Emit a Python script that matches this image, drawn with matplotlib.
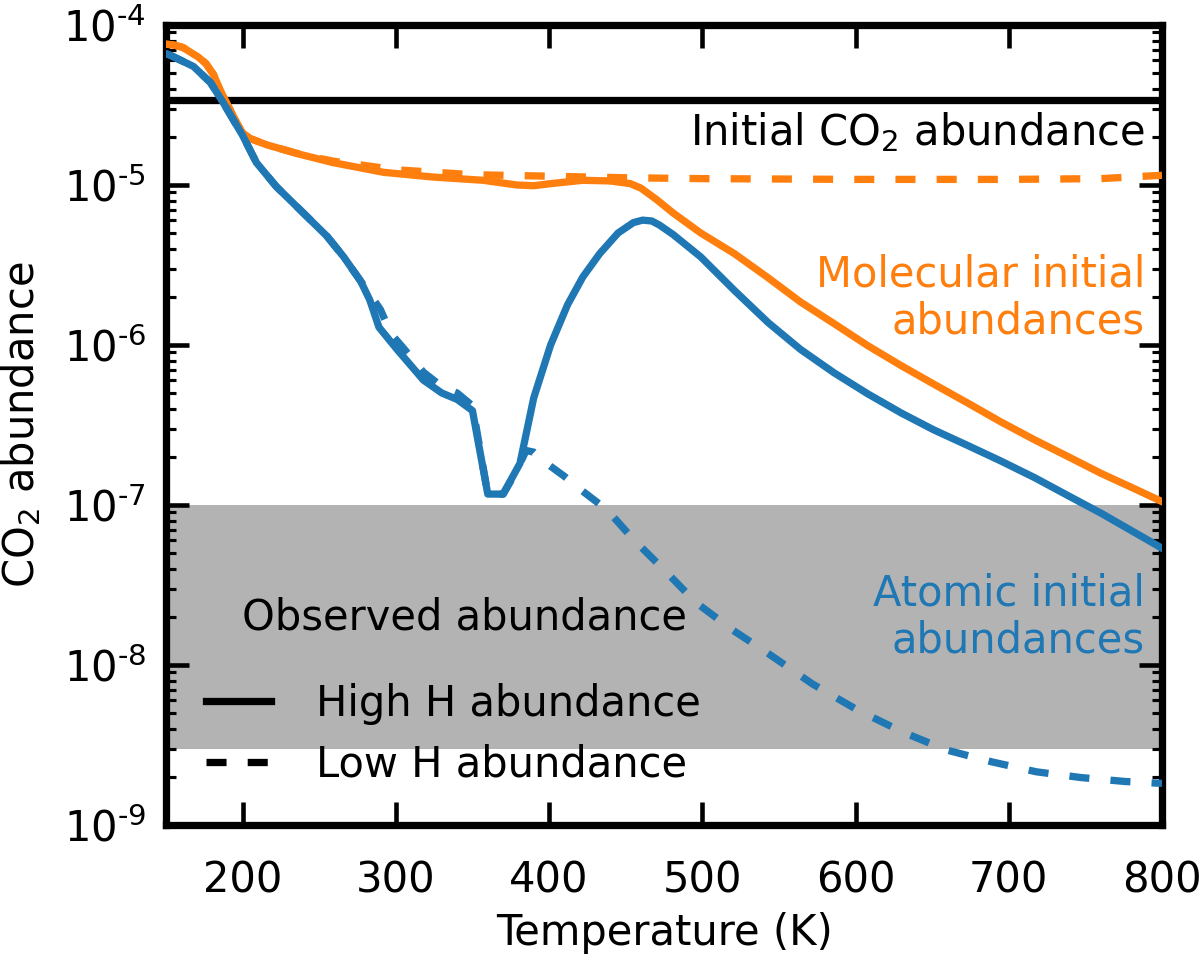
import matplotlib
matplotlib.use("Agg")
import matplotlib.pyplot as plt
from matplotlib.lines import Line2D
from matplotlib.ticker import FuncFormatter
import numpy as np

# ---------------- data ----------------
t_mol_high = [150, 155, 161, 171, 176, 181, 187, 194, 200, 205, 216, 238, 259, 292, 325, 357,
              379, 390, 401, 422, 440, 453, 460, 470, 481, 499, 521, 543, 564, 586, 608,
              630, 651, 673, 695, 717, 739, 760, 780, 800]
co2_mol_high = [7.59e-5, 7.50e-5, 7.24e-5, 6.31e-5, 5.75e-5, 4.90e-5, 3.63e-5, 2.69e-5, 2.11e-5,
                1.95e-5, 1.78e-5, 1.55e-5, 1.38e-5, 1.20e-5, 1.12e-5, 1.07e-5, 1.00e-5,
                0.99e-5, 1.02e-5, 1.07e-5, 1.06e-5, 1.02e-5, 9.55e-6, 8.13e-6, 6.68e-6,
                5.01e-6, 3.72e-6, 2.63e-6, 1.86e-6, 1.36e-6, 9.90e-7, 7.41e-7, 5.70e-7,
                4.35e-7, 3.30e-7, 2.55e-7, 2.00e-7, 1.58e-7, 1.29e-7, 1.05e-7]

t_mol_low = [150, 155, 161, 171, 176, 181, 187, 194, 200, 205, 216, 238, 259, 300, 350, 400,
             450, 500, 600, 700, 760, 800]
co2_mol_low = [7.59e-5, 7.50e-5, 7.24e-5, 6.31e-5, 5.75e-5, 4.90e-5, 3.63e-5, 2.69e-5, 2.11e-5,
               1.95e-5, 1.78e-5, 1.55e-5, 1.41e-5, 1.245e-5, 1.16e-5, 1.135e-5, 1.11e-5,
               1.096e-5, 1.084e-5, 1.084e-5, 1.096e-5, 1.15e-5]

t_atom_high = [150, 153, 168, 179, 187, 200, 209, 222, 238, 255, 266, 277, 283, 289, 301,
               318, 330, 340, 350, 360, 370, 381, 390, 401, 412, 422, 433, 445, 455, 461,
               467, 472, 481, 499, 521, 543, 564, 586, 608, 630, 651, 673, 695, 717, 739,
               760, 780, 800]
co2_atom_high = [6.61e-5, 6.46e-5, 5.50e-5, 4.37e-5, 3.31e-5, 2.04e-5, 1.38e-5, 9.77e-6,
                 6.92e-6, 4.79e-6, 3.55e-6, 2.51e-6, 1.91e-6, 1.29e-6, 9.33e-7, 6.03e-7,
                 5.01e-7, 4.57e-7, 3.89e-7, 1.17e-7, 1.17e-7, 1.82e-7, 4.68e-7, 1.00e-6,
                 1.78e-6, 2.66e-6, 3.72e-6, 5.01e-6, 5.82e-6, 6.03e-6, 5.96e-6, 5.62e-6,
                 4.90e-6, 3.55e-6, 2.19e-6, 1.38e-6, 9.40e-7, 6.70e-7, 4.95e-7, 3.75e-7,
                 2.95e-7, 2.36e-7, 1.88e-7, 1.48e-7, 1.14e-7, 8.91e-8, 6.92e-8, 5.37e-8]

t_atom_low = [150, 153, 168, 179, 187, 200, 209, 222, 238, 255, 266, 277, 283, 290, 297,
              305, 318, 330, 340, 350, 360, 370, 378, 385, 390, 397, 410, 420, 438, 455,
              476, 496, 520, 543, 572, 601, 631, 659, 689, 718, 747, 776, 800]
co2_atom_low = [6.61e-5, 6.46e-5, 5.50e-5, 4.37e-5, 3.31e-5, 2.04e-5, 1.38e-5, 9.77e-6,
                6.92e-6, 4.79e-6, 3.55e-6, 2.51e-6, 2.09e-6, 1.66e-6, 1.17e-6, 9.55e-7,
                6.76e-7, 5.50e-7, 5.01e-7, 4.17e-7, 1.17e-7, 1.17e-7, 1.58e-7, 2.19e-7,
                2.14e-7, 1.86e-7, 1.51e-7, 1.26e-7, 9.30e-8, 6.10e-8, 3.85e-8, 2.45e-8,
                1.65e-8, 1.18e-8, 7.60e-9, 5.25e-9, 3.80e-9, 2.95e-9, 2.48e-9, 2.15e-9,
                1.98e-9, 1.87e-9, 1.82e-9]

initial_co2 = 3.4e-5
observed_range = [3e-9, 1e-7]
x_ticks = [200, 300, 400, 500, 600, 700, 800]

# ---------------- style ----------------
BLUE = "#1f77b4"
ORANGE = "#ff7f0e"
LW = 3.5
DASH = (0, (2.75, 2.9))
FS = 20

plt.rcParams["font.family"] = ["DejaVu Sans"]
plt.rcParams["font.size"] = FS

fig = plt.figure(figsize=(8, 6.38), dpi=150)
ax = fig.add_axes([166 / 1200, (957 - 825) / 957, (1162 - 166) / 1200, 800 / 957])

ax.axhspan(observed_range[0], observed_range[1], color="0.7", lw=0, zorder=0)
ax.axhline(initial_co2, color="black", lw=LW, zorder=2)

ax.plot(t_mol_high, co2_mol_high, color=ORANGE, lw=LW, zorder=3)
ax.plot(t_mol_low, co2_mol_low, color=ORANGE, lw=LW, ls=DASH, zorder=3)
ax.plot(t_atom_high, co2_atom_high, color=BLUE, lw=LW, zorder=3)
ax.plot(t_atom_low, co2_atom_low, color=BLUE, lw=LW, ls=DASH, zorder=3)

ax.set_yscale("log")
ax.set_xlim(150, 800)
ax.set_ylim(1e-9, 1e-4)
ax.set_xticks(x_ticks)


def log_fmt(v, pos):
    e = int(round(np.log10(v)))
    if e < 0:
        return r"$\mathdefault{10^{\text{-}%d}}$" % (-e)
    return r"$\mathdefault{10^{%d}}$" % e


ax.yaxis.set_major_formatter(FuncFormatter(log_fmt))

for s in ax.spines.values():
    s.set_linewidth(3.5)
ax.tick_params(which="both", direction="in", top=True, right=True)
ax.tick_params(which="major", length=11, width=2.2, labelsize=FS)
ax.tick_params(which="minor", length=5, width=1.5)
ax.tick_params(axis="x", which="major", pad=16.5)
ax.tick_params(axis="y", which="major", pad=9.5)

ax.set_xlabel("Temperature (K)", fontsize=FS, labelpad=5)
ax.set_ylabel("CO$_2$ abundance", fontsize=FS)
ax.yaxis.set_label_coords(-0.1235, 0.5)

ax.text(0.983, 0.85, "Initial CO$_2$ abundance", transform=ax.transAxes,
        ha="right", va="baseline", fontsize=FS, color="black", zorder=5)
ax.text(0.983, 0.615, "Molecular initial\nabundances", transform=ax.transAxes,
        ha="right", va="baseline", multialignment="right", fontsize=FS,
        color=ORANGE, linespacing=1.15, zorder=5)
ax.text(0.983, 0.216, "Atomic initial\nabundances", transform=ax.transAxes,
        ha="right", va="baseline", multialignment="right", fontsize=FS,
        color=BLUE, linespacing=1.15, zorder=5)
ax.text(0.2997, 0.24375, "Observed abundance", transform=ax.transAxes,
        ha="center", va="baseline", fontsize=FS, color="black", zorder=5)

handles = [Line2D([], [], color="black", lw=LW),
           Line2D([], [], color="black", lw=LW, ls=DASH)]
ax.legend(handles, ["High H abundance", "Low H abundance"], loc="lower left",
          frameon=False, fontsize=FS, handlelength=1.56, handletextpad=1.1,
          labelspacing=0.45, borderaxespad=0.55)

fig.savefig("out.png", dpi=150)
